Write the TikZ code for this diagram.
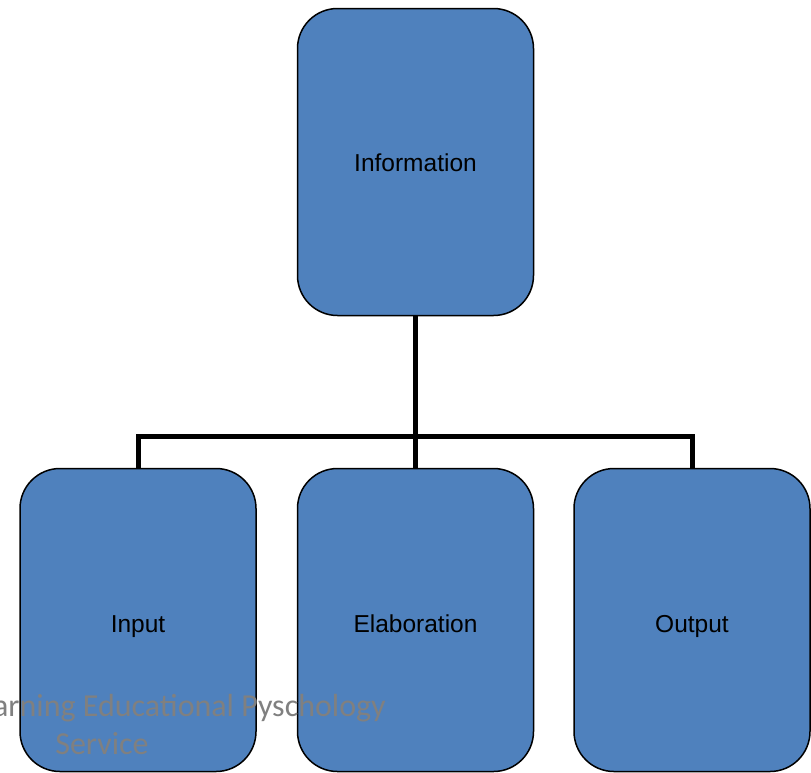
\documentclass[tikz,border=0pt]{standalone}
\usepackage{fontspec}
\setmainfont{Liberation Sans}
\newfontfamily\markfont{Carlito}
\usetikzlibrary{positioning}

\definecolor{boxblue}{RGB}{79,129,189}
\definecolor{markgrey}{RGB}{128,128,128}

\tikzset{
  box/.style={draw=black,line width=1.5pt,fill=boxblue,rounded corners=40pt,
    minimum width=236pt,inner sep=0pt,text depth=0pt,
    font=\fontsize{24.5}{28}\selectfont},
  link/.style={line width=5pt,line join=miter}
}

\begin{document}
\begin{tikzpicture}[x=1pt,y=-1pt,on grid]
   \useasboundingbox (0,0) rectangle (811,772);
   \clip (0,0) rectangle (811,772);
   \node[box,minimum height=307pt,text height=18pt] (info) at (415.5,162) {Information};
   \node[box,minimum height=303pt,text height=24pt] (elab) [below=458pt of info] {Elaboration};
   \node[box,minimum height=303pt,text height=24pt] (inp) [left=277.5pt of elab] {Input};
   \node[box,minimum height=303pt,text height=24pt] (outp) [right=276.5pt of elab] {Output};
   \coordinate (split) at (415.5,436);
   \draw[link] (info.south) -- (split);
   \draw[link] (inp.north) |- (split) -| (outp.north);
   \draw[link] (split) -- (elab.north);
   % watermark
   \node[anchor=base east,text=markgrey,font=\markfont\fontsize{32}{37}\selectfont,inner sep=0pt]
     (mark1) at (386,716) {Learning Educational Pyschology};
   \node[anchor=base,text=markgrey,font=\markfont\fontsize{32}{37}\selectfont,inner sep=0pt]
     (mark2) at (102,754) {Service};
\end{tikzpicture}
\end{document}
